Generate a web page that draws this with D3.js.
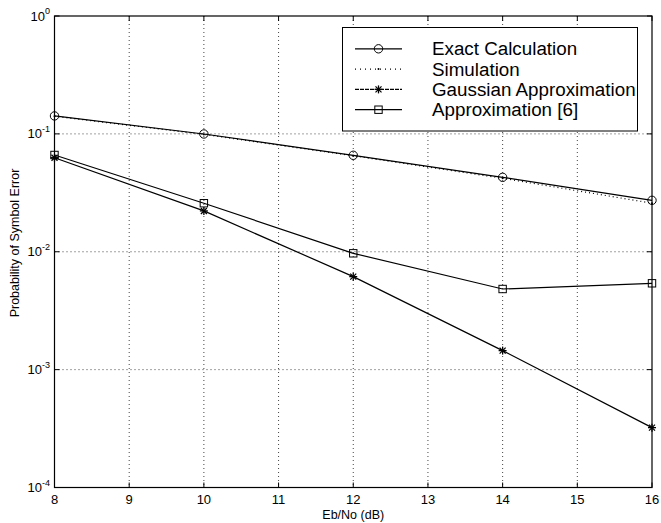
<!DOCTYPE html>
<meta charset="utf-8">
<style type="text/css">
    body {
        margin: 0;
        background: #fff;
    }
    text {
        font-family: "Liberation Sans", Arial, sans-serif;
        fill: #000;
    }
    .grid line {
        stroke: #444;
        stroke-width: 1px;
        stroke-dasharray: 1,3;
    }
</style>
<body>
<script src="https://d3js.org/d3.v7.min.js"></script>
<script>
// Eb/No values (dB)
var ebno = [8, 10, 12, 14, 16];

// Probability of symbol error for each curve
var exactCalc   = [0.142, 0.0998, 0.0658, 0.0428, 0.0273];
var simulation  = [0.141, 0.0990, 0.0652, 0.0420, 0.0258];
var gaussApprox = [0.0628, 0.0222, 0.00615, 0.00145, 0.000322];
var approx6     = [0.0662, 0.0258, 0.0097, 0.00483, 0.0054];

var xTicks = [8, 9, 10, 11, 12, 13, 14, 15, 16];
var yTicks = [1e-4, 1e-3, 1e-2, 1e-1, 1];
var yExp   = ["-4", "-3", "-2", "-1", "0"];

var legendNames = ["Exact Calculation", "Simulation", "Gaussian Approximation", "Approximation [6]"];

var width = 661, height = 523;
var margin = {top: 16, right: 9, bottom: 35.5, left: 54.5};

var svg = d3.select("body")
    .append("svg")
    .attr("width", width)
    .attr("height", height);

var x = d3.scaleLinear()
    .domain([8, 16])
    .range([margin.left, width - margin.right]);

var y = d3.scaleLog()
    .domain([1e-4, 1])
    .range([height - margin.bottom, margin.top]);

var x0 = x.range()[0], x1 = x.range()[1];
var y0 = y.range()[0], y1 = y.range()[1];

// grid
var grid = svg.append("g").attr("class", "grid");
grid.selectAll("line.gx")
    .data(xTicks.slice(1, -1))
    .enter().append("line")
    .attr("x1", function(d) { return x(d); })
    .attr("x2", function(d) { return x(d); })
    .attr("y1", y1).attr("y2", y0);
grid.selectAll("line.gy")
    .data(yTicks.slice(1, -1))
    .enter().append("line")
    .attr("y1", function(d) { return y(d); })
    .attr("y2", function(d) { return y(d); })
    .attr("x1", x0).attr("x2", x1);

// axes box
svg.append("rect")
    .attr("x", x0).attr("y", y1)
    .attr("width", x1 - x0).attr("height", y0 - y1)
    .attr("fill", "none")
    .attr("stroke", "#000")
    .attr("stroke-width", 1.2);

// inward ticks on all four sides
var tl = 5;
var ticks = svg.append("g").attr("stroke", "#000").attr("stroke-width", 1);
xTicks.forEach(function(d) {
    ticks.append("line").attr("x1", x(d)).attr("x2", x(d)).attr("y1", y0).attr("y2", y0 - tl);
    ticks.append("line").attr("x1", x(d)).attr("x2", x(d)).attr("y1", y1).attr("y2", y1 + tl);
});
yTicks.forEach(function(d) {
    ticks.append("line").attr("y1", y(d)).attr("y2", y(d)).attr("x1", x0).attr("x2", x0 + tl);
    ticks.append("line").attr("y1", y(d)).attr("y2", y(d)).attr("x1", x1).attr("x2", x1 - tl);
});

// tick labels
svg.selectAll("text.xt")
    .data(xTicks)
    .enter().append("text")
    .attr("x", function(d) { return x(d); })
    .attr("y", y0 + 16.5)
    .attr("text-anchor", "middle")
    .style("font-size", "13px")
    .text(function(d) { return d; });

var yt = svg.selectAll("text.yt")
    .data(yTicks)
    .enter().append("text")
    .attr("x", 50)
    .attr("y", function(d) { return y(d) + 4.5; })
    .attr("text-anchor", "end")
    .style("font-size", "13px");
yt.append("tspan").text("10");
yt.append("tspan")
    .attr("dy", -6.5)
    .style("font-size", "9px")
    .text(function(d, i) { return yExp[i]; });

// axis labels
svg.append("text")
    .attr("x", (x0 + x1) / 2)
    .attr("y", 519)
    .attr("text-anchor", "middle")
    .style("font-size", "12.5px")
    .text("Eb/No (dB)");

svg.append("text")
    .attr("transform", "translate(19," + 243 + ") rotate(-90)")
    .attr("text-anchor", "middle")
    .style("font-size", "12.5px")
    .text("Probability of Symbol Error");

// series
var line = d3.line()
    .x(function(d, i) { return x(ebno[i]); })
    .y(function(d) { return y(d); });

var plot = svg.append("g");

function drawMarker(g, type, cx, cy) {
    if (type === "circle") {
        g.append("circle").attr("cx", cx).attr("cy", cy).attr("r", 4.2)
            .attr("fill", "none").attr("stroke", "#000").attr("stroke-width", 1);
    } else if (type === "square") {
        g.append("rect").attr("x", cx - 3.7).attr("y", cy - 3.7).attr("width", 7.4).attr("height", 7.4)
            .attr("fill", "none").attr("stroke", "#000").attr("stroke-width", 1);
    } else if (type === "star") {
        var s = 4;
        [[0, -s, 0, s], [-s, 0, s, 0], [-s * 0.75, -s * 0.75, s * 0.75, s * 0.75], [-s * 0.75, s * 0.75, s * 0.75, -s * 0.75]]
            .forEach(function(p) {
                g.append("line").attr("x1", cx + p[0]).attr("y1", cy + p[1])
                    .attr("x2", cx + p[2]).attr("y2", cy + p[3])
                    .attr("stroke", "#000").attr("stroke-width", 1.3);
            });
    } else if (type === "point") {
        g.append("circle").attr("cx", cx).attr("cy", cy).attr("r", 1).attr("fill", "#000");
    }
}

var series = [
    {data: exactCalc, marker: "circle", dash: null},
    {data: simulation, marker: "point", dash: "1,3"},
    {data: gaussApprox, marker: "star", dash: null},
    {data: approx6, marker: "square", dash: null}
];

series.forEach(function(s) {
    plot.append("path")
        .attr("d", line(s.data))
        .attr("fill", "none")
        .attr("stroke", "#000")
        .attr("stroke-width", 1.2)
        .attr("stroke-dasharray", s.dash);
    s.data.forEach(function(v, i) {
        drawMarker(plot, s.marker, x(ebno[i]), y(v));
    });
});

// legend
var lg = svg.append("g");
lg.append("rect")
    .attr("x", 342.5).attr("y", 27.5)
    .attr("width", 295).attr("height", 103.5)
    .attr("fill", "#fff")
    .attr("stroke", "#000")
    .attr("stroke-width", 1);

var legendDash = [null, "1,4", "4,1", null];
legendNames.forEach(function(name, i) {
    var ly = 48.8 + i * 20.3;
    lg.append("line")
        .attr("x1", 355).attr("x2", 402)
        .attr("y1", ly).attr("y2", ly)
        .attr("stroke", "#000")
        .attr("stroke-width", 1.2)
        .attr("stroke-dasharray", legendDash[i]);
    drawMarker(lg, series[i].marker, 378.5, ly);
    lg.append("text")
        .attr("x", 432)
        .attr("y", ly + 6.5)
        .style("font-size", "18.8px")
        .text(name);
});
</script>
</body>
